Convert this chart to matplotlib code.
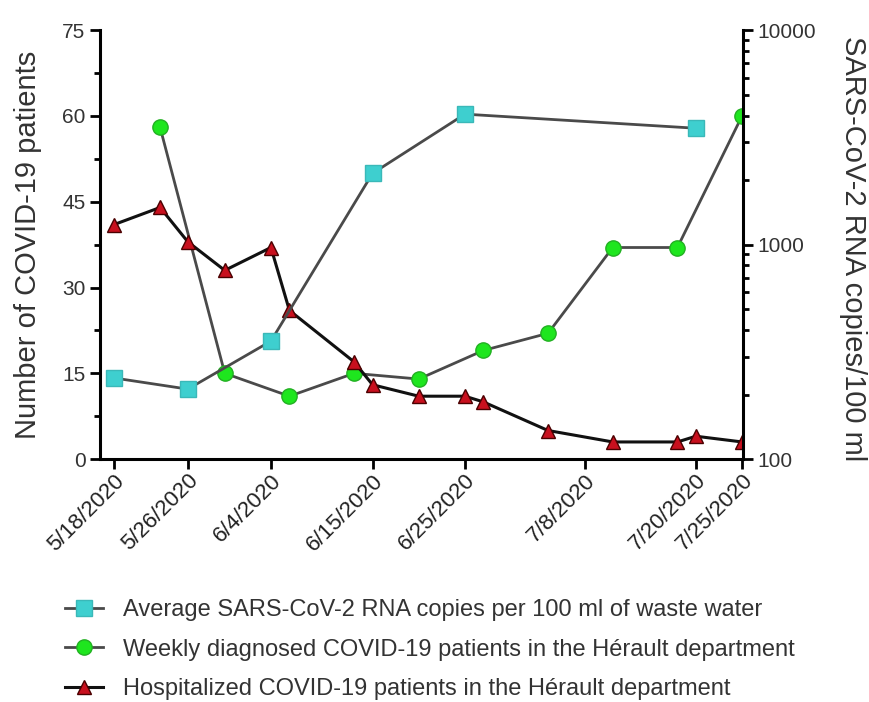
import numpy as np
import pandas as pd
import matplotlib
matplotlib.use('Agg')
import matplotlib.pyplot as plt
from matplotlib.ticker import MultipleLocator, LogLocator, NullFormatter, FixedLocator

plt.rcParams['font.family'] = ['Liberation Sans', 'DejaVu Sans']

# x-axis ticks
tick_dates = ['2020-05-18', '2020-05-26', '2020-06-04', '2020-06-15',
              '2020-06-25', '2020-07-08', '2020-07-20', '2020-07-25']
tick_labels = ['5/18/2020', '5/26/2020', '6/4/2020', '6/15/2020',
               '6/25/2020', '7/8/2020', '7/20/2020', '7/25/2020']

# SARS-CoV-2 RNA copies per 100 ml (right, log axis)
rna_dates = ['2020-05-18', '2020-05-26', '2020-06-04', '2020-06-15',
             '2020-06-25', '2020-07-20']
rna_copies = [239, 212, 355, 2150, 4060, 3490]

# weekly diagnosed patients (left axis)
weekly_dates = ['2020-05-23', '2020-05-30', '2020-06-06', '2020-06-13',
                '2020-06-20', '2020-06-27', '2020-07-04', '2020-07-11',
                '2020-07-18', '2020-07-25']
weekly_cases = [58, 15, 11, 15, 14, 19, 22, 37, 37, 60]

# hospitalized patients (left axis)
hosp_dates = ['2020-05-18', '2020-05-23', '2020-05-26', '2020-05-30',
              '2020-06-04', '2020-06-06', '2020-06-13', '2020-06-15',
              '2020-06-20', '2020-06-25', '2020-06-27', '2020-07-04',
              '2020-07-11', '2020-07-18', '2020-07-20', '2020-07-25']
hosp_patients = [41, 44, 38, 33, 37, 26, 17, 13, 11, 11, 10, 5, 3, 3, 4, 3]

fig = plt.figure(figsize=(8.7, 7.02), dpi=100)
ax = fig.add_axes([0.115, 0.346, 0.739, 0.611])
ax2 = ax.twinx()

l_green, = ax.plot(pd.to_datetime(weekly_dates), weekly_cases, color='#4a4a4a', lw=2,
                   marker='o', ms=11, mfc='#1ee61e', mec='#22b022', mew=1,
                   label='Weekly diagnosed COVID-19 patients in the Hérault department', zorder=3)
l_red, = ax.plot(pd.to_datetime(hosp_dates), hosp_patients, color='#111111', lw=2.2,
                 marker='^', ms=10, mfc='#c8101e', mec='#4a0000', mew=1,
                 label='Hospitalized COVID-19 patients in the Hérault department', zorder=4)
l_cyan, = ax2.plot(pd.to_datetime(rna_dates), rna_copies, color='#4a4a4a', lw=2,
                   marker='s', ms=11, mfc='#3ecfcf', mec='#3ab8b8', mew=1,
                   label='Average SARS-CoV-2 RNA copies per 100 ml of waste water', zorder=3)

x0 = pd.Timestamp('2020-05-18') - pd.Timedelta(days=1.5)
x1 = pd.Timestamp('2020-07-25') + pd.Timedelta(days=0.1)
ax.set_xlim(x0, x1)
ax.set_ylim(0, 75)
ax2.set_yscale('log')
ax2.set_ylim(100, 10000)

ax.set_xticks(pd.to_datetime(tick_dates))
ax.set_xticklabels(tick_labels, rotation=45, ha='right', rotation_mode='anchor',
                   fontsize=16, color='#222222')
ax.yaxis.set_major_locator(MultipleLocator(15))
ax.yaxis.set_minor_locator(MultipleLocator(7.5))
ax.tick_params(axis='y', which='major', labelsize=15, labelcolor='#333333')
ax.tick_params(axis='both', which='major', width=2, length=7, direction='out')
ax.tick_params(axis='y', which='minor', width=2, length=4, direction='out')
ax.tick_params(axis='x', which='minor', length=0)
ax.tick_params(axis='x', which='major', pad=1)

ax2.yaxis.set_major_locator(FixedLocator([100, 1000, 10000]))
ax2.yaxis.set_minor_locator(LogLocator(base=10, subs=np.arange(2, 10)))
ax2.yaxis.set_minor_formatter(NullFormatter())
ax2.set_yticklabels(['100', '1000', '10000'])
ax2.tick_params(axis='y', which='major', labelsize=15, labelcolor='#333333',
                width=2, length=7, direction='out')
ax2.tick_params(axis='y', which='minor', width=2, length=4, direction='out')

for s in ['top', 'right']:
    ax.spines[s].set_visible(False)
for s in ['top', 'left', 'bottom']:
    ax2.spines[s].set_visible(False)
for s in ['left', 'bottom']:
    ax.spines[s].set_linewidth(2.2)
ax2.spines['right'].set_linewidth(2.2)

ax.set_ylabel('Number of COVID-19 patients', fontsize=21, color='#333333')
ax.yaxis.set_label_coords(-0.09, 0.5)
ax2.set_ylabel('SARS-CoV-2 RNA copies/100 ml', fontsize=21, rotation=-90,
               va='bottom', color='#333333')
ax2.yaxis.set_label_coords(1.15, 0.49)

fig.legend(handles=[l_cyan, l_green, l_red], loc='upper left',
           bbox_to_anchor=(0.05, 0.177), frameon=False, fontsize=17,
           handlelength=1.6, labelspacing=0.75, handletextpad=0.85,
           labelcolor='#333333')

fig.savefig('out.png', dpi=100)
